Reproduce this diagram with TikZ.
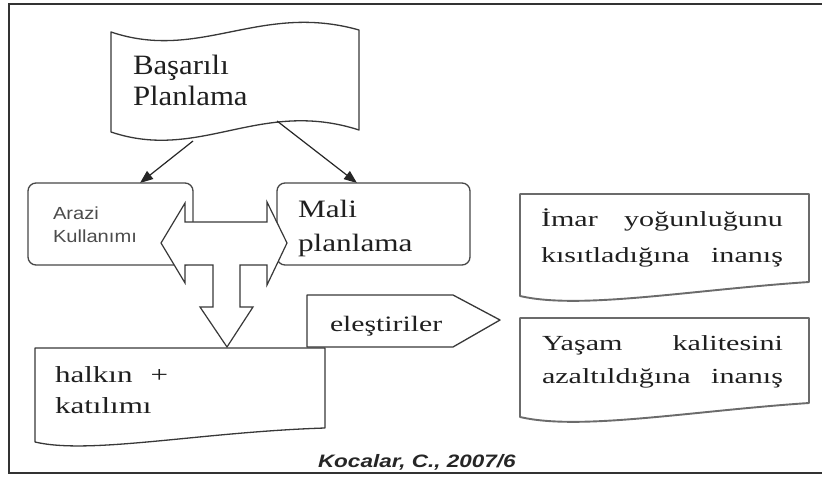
\documentclass[tikz,border=0pt]{standalone}
\usepackage{fontspec}
\setmainfont{Liberation Serif}
% widened serif and sans faces for the box texts
\newfontfamily\serifA[FakeStretch=1.1]{Liberation Serif}
\newfontfamily\serifB[FakeStretch=1.25]{Liberation Serif}
\newfontfamily\serifC[FakeStretch=1.35]{Liberation Serif}
\newfontfamily\serifD[FakeStretch=1.4]{Liberation Serif}
\newfontfamily\sansA[FakeStretch=1.15]{Liberation Sans}
\newfontfamily\sansB[FakeStretch=1.25]{Liberation Sans}
\usetikzlibrary{arrows.meta}

\tikzset{
  frameline/.style={draw=black!80, line width=2pt},
  outline/.style={draw=black!78, line width=1.3pt, fill=white, line join=round},
  docline/.style={draw=black!58, line width=1.9pt, fill=white, line join=round},
  rbox/.style={draw=black!72, line width=1.3pt, rounded corners=8pt, inner sep=0pt, fill=white},
  blockarrow/.style={draw=black!78, line width=1.2pt, fill=white, line join=miter},
  link/.style={draw=black!85, line width=1.2pt, -{Triangle[length=13pt,width=10pt]}},
  txt/.style={anchor=base west, inner sep=0pt, outer sep=0pt, text=black!88},
}

\begin{document}
\begin{tikzpicture}[x=1pt, y=-1pt]
\useasboundingbox[fill=white] (0,0) rectangle (822,478);

% outer frame (its right side lies past the page edge)
\draw[frameline] (824,4) -- (9,4) -- (9,473) -- (824,473);

% banner shape
\path[outline] (111,32) .. controls (200,62) and (260,2) .. (359,30)
  -- (359,130) .. controls (260,98) and (200,162) .. (111,132) -- cycle;
\coordinate (ws1) at (193,141);
\coordinate (ws2) at (277,121);
\coordinate (a1) at (140,183);
\coordinate (a2) at (357,183);
\draw[link] (ws1) -- (a1);
\draw[link] (ws2) -- (a2);

% rounded boxes
\node[rbox, minimum width=165pt, minimum height=82pt] (arazi) at (110.5,224) {};
\node[rbox, minimum width=193pt, minimum height=82pt] (mali) at (373.5,224) {};

% three-way block arrow
\path[blockarrow] (161,243) -- (185,203) -- (185,222) -- (267,222) -- (267,202)
  -- (287,243) -- (267,285) -- (267,265) -- (240,265) -- (240,307) -- (253,307)
  -- (227,347) -- (200,307) -- (213,307) -- (213,265) -- (185,265) -- (185,283)
  -- cycle;

% document shape
\path[outline] (35,348) -- (325,348) -- (325,428)
  .. controls (200,432) and (90,455) .. (35,442) -- cycle;

% pentagon label shape
\path[outline] (307,347) -- (307,295) -- (453,295) -- (500,320) -- (453,347) -- cycle;

% right-hand documents
\path[docline] (520,194) -- (809,194) -- (809,282)
  .. controls (690,290) and (580,310) .. (520,296) -- cycle;
\path[docline] (520,318) -- (809,318) -- (809,403)
  .. controls (690,411) and (580,431) .. (520,417) -- cycle;

% texts
\node[txt, font={\serifA\fontsize{28}{32}\selectfont}] (t1) at (133,75) {Başarılı};
\node[txt, font={\serifA\fontsize{28}{32}\selectfont}] (t2) at (133,106) {Planlama};

\node[txt, text=black!70, font={\sansA\fontsize{17.5}{20}\selectfont}] (t3) at (53,220) {Arazi};
\node[txt, text=black!70, font={\sansA\fontsize{17.5}{20}\selectfont}] (t4) at (53,243) {Kullanımı};

\node[txt, font={\serifB\fontsize{25}{30}\selectfont}] (t5) at (298,218) {Mali};
\node[txt, font={\serifB\fontsize{25}{30}\selectfont}] (t6) at (298,252) {planlama};

\node[txt, font={\serifC\fontsize{22}{26}\selectfont}] (t7) at (330,332) {eleştiriler};

\node[txt, font={\serifC\fontsize{23}{27}\selectfont}] (t8) at (55,382) {halkın\hspace{18pt}+};
\node[txt, font={\serifC\fontsize{23}{27}\selectfont}] (t9) at (55,413) {katılımı};

\node[txt, font={\serifD\fontsize{21.5}{26}\selectfont}] (t10) at (541,227) {\makebox[242pt][s]{İmar yoğunluğunu}};
\node[txt, font={\serifD\fontsize{21.5}{26}\selectfont}] (t11) at (541,263) {\makebox[242pt][s]{kısıtladığına inanış}};
\node[txt, font={\serifD\fontsize{21.5}{26}\selectfont}] (t12) at (542,351) {\makebox[241pt][s]{Yaşam kalitesini}};
\node[txt, font={\serifD\fontsize{21.5}{26}\selectfont}] (t13) at (542,383) {\makebox[241pt][s]{azaltıldığına inanış}};

\node[txt, text=black!85, font={\sansB\fontsize{18}{21}\selectfont\bfseries\itshape}] (src) at (318,467) {Kocalar, C., 2007/6};
\end{tikzpicture}
\end{document}
